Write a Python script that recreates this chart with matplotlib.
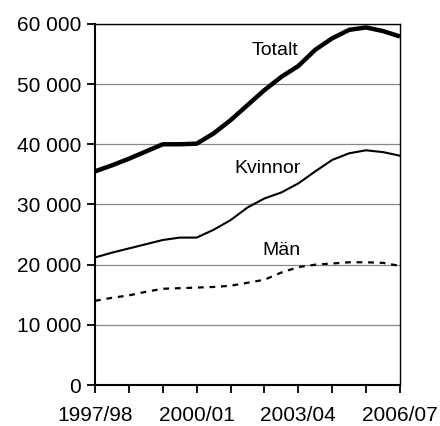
import matplotlib.pyplot as plt
import numpy as np

plt.rcParams["font.family"] = ["Liberation Sans", "DejaVu Sans"]

# half-year steps from 1997/98 to 2006/07
steps = np.arange(19)
year_labels = ["1997/98", "2000/01", "2003/04", "2006/07"]

totalt = [35500, 36500, 37600, 38800, 40000, 40000, 40100, 41800, 44000, 46500,
          49000, 51200, 53000, 55700, 57600, 59000, 59400, 58800, 57900]
kvinnor = [21200, 22000, 22700, 23400, 24100, 24500, 24500, 25800, 27400, 29500,
           31000, 32000, 33500, 35500, 37400, 38500, 39000, 38700, 38100]
man = [14000, 14500, 14900, 15500, 16000, 16100, 16200, 16300, 16500, 17000,
       17500, 18700, 19600, 20000, 20200, 20400, 20400, 20300, 19800]

fig = plt.figure(figsize=(4.4, 4.26), dpi=100)
ax = fig.add_axes([0.216, 0.096, 0.693, 0.848])

ax.plot(steps, totalt, color="black", linewidth=3.2, solid_capstyle="butt")
ax.plot(steps, kvinnor, color="black", linewidth=1.5)
ax.plot(steps, man, color="black", linewidth=1.6, linestyle=(0, (2.6, 2.6)))

ax.text(10.6, 55600, "Totalt", fontsize=14, ha="center", va="center")
ax.text(10.2, 35900, "Kvinnor", fontsize=14, ha="center", va="center")
ax.text(11.0, 22300, "Män", fontsize=14, ha="center", va="center")

ax.set_xlim(0, 18)
ax.set_ylim(0, 60000)
ax.set_yticks(range(0, 60001, 10000))
ax.set_yticklabels([f"{v:,}".replace(",", " ") for v in range(0, 60001, 10000)])
ax.set_xticks(range(0, 19, 2))
ax.set_xticklabels([year_labels[i // 6] if i % 6 == 0 else "" for i in range(0, 19, 2)])

ax.yaxis.grid(True, color="#888888", linewidth=0.9)
ax.set_axisbelow(True)
for side in ["left", "bottom"]:
    ax.spines[side].set_linewidth(1.5)
for side in ["top", "right"]:
    ax.spines[side].set_linewidth(1.0)
ax.tick_params(axis="both", direction="out", length=6, width=1.3, labelsize=15)
ax.tick_params(axis="y", pad=4)
ax.tick_params(axis="x", pad=9)

plt.savefig("out.png", dpi=100)
